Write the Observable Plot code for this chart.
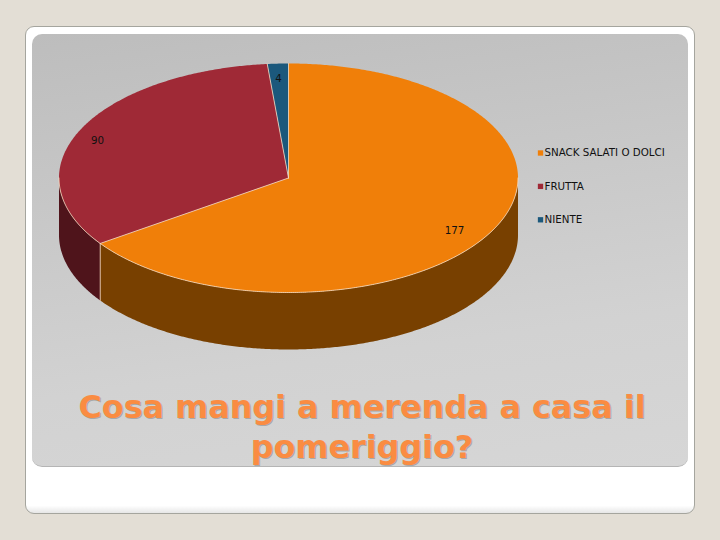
<!DOCTYPE html>
<html>
<head>
<meta charset="utf-8">
<script src="https://cdn.jsdelivr.net/npm/d3@7"></script>
<script src="https://cdn.jsdelivr.net/npm/@observablehq/plot@0.6"></script>
<style>
html,body{margin:0;padding:0;background:#e3ded5;width:720px;height:540px;overflow:hidden}
#card{position:absolute;left:24.5px;top:25.5px;width:670.5px;height:488.5px;box-sizing:border-box;background:linear-gradient(#fff 0,#fff 98.5%,#e6e6e6 100%);border:1px solid #a5a59e;border-radius:9px}
#panel{position:absolute;left:32px;top:34px;width:656px;height:433px;border-radius:10px;background:linear-gradient(172deg,#bdbdbd 0%,#c6c6c6 30%,#d2d2d2 70%,#d6d6d6 100%);border-bottom:1px solid #b5b5b5;box-sizing:border-box}
#chart{position:absolute;left:0;top:0}
#chart svg{background:transparent!important}
</style>
</head>
<body>
<div id="card"></div>
<div id="panel"></div>
<div id="chart"></div>
<script>
const categories = ["SNACK SALATI O DOLCI", "FRUTTA", "NIENTE"];
const values = [177, 90, 4];
const topColors = ["#F07F09", "#9F2936", "#1B587C"];
const wallColors = ["#784000", "#4F141B", "#0D2C3E"];
const titleLines = ["Cosa mangi a merenda a casa il", "pomeriggio?"];

// layout of the tilted pie
const cx = 288, cy = 177.5, rx = 229.5, ry = 114.5, depth = 57;
const total = d3.sum(values);
const rim = (deg, drop = 0) => {
  const t = deg * Math.PI / 180;
  return {x: cx + rx * Math.sin(t), y: cy - ry * Math.cos(t) + drop};
};
const arc = (a, b, drop = 0) => {
  const n = Math.max(2, Math.ceil(Math.abs(b - a) * 2));
  return d3.range(n + 1).map(i => rim(a + (b - a) * i / n, drop));
};

let acc = 0;
const slices = categories.map((name, i) => {
  const start = acc / total * 360;
  acc += values[i];
  return {name, value: values[i], start, end: acc / total * 360, wall: wallColors[i]};
});

const topPts = slices.flatMap(s =>
  [{x: cx, y: cy}, ...arc(s.start, s.end), {x: cx, y: cy}].map(p => ({...p, name: s.name})));

const wallPts = slices.flatMap(s => {
  const a = Math.max(s.start, 90), b = Math.min(s.end, 270);
  if (b <= a) return [];
  return [...arc(a, b), ...arc(b, a, depth)].map(p => ({...p, wall: s.wall, name: s.name}));
});

const edgePts = [
  ...slices.flatMap(s => [{x: cx, y: cy}, rim(s.start)].map(p => ({...p, k: "r" + s.name}))),
  ...arc(90, 270).map(p => ({...p, k: "front"})),
  ...[rim(slices[0].end), rim(slices[0].end, depth)].map(p => ({...p, k: "wall"}))
];

const labelPos = [{x: 454, y: 230}, {x: 97, y: 140}, {x: 278, y: 78}];
const pieLabels = slices.map((s, i) => ({text: String(s.value), ...labelPos[i]}));
const legend = categories.map((name, i) => ({name, x: 540, tx: 544, y: 152.5 + i * 33.4}));
const title = titleLines.map((t, i) => ({t, x: 361.5, y: 407 + i * 40}));
const font = "'DejaVu Sans', Verdana, sans-serif";

const chart = Plot.plot({
  width: 720, height: 540, margin: 0,
  style: {background: "transparent"},
  x: {domain: [0, 720], range: [0, 720], axis: null},
  y: {domain: [0, 540], range: [0, 540], axis: null},
  color: {domain: categories, range: topColors},
  marks: [
    Plot.line(wallPts, {x: "x", y: "y", z: "name", fill: d => d.wall, stroke: "none"}),
    Plot.line(topPts, {x: "x", y: "y", z: "name", fill: "name", stroke: "none"}),
    Plot.line(edgePts, {x: "x", y: "y", z: "k", stroke: "#f7dcc0", strokeWidth: 0.8}),
    Plot.text(pieLabels, {x: "x", y: "y", text: "text", fill: "#111", fontSize: 10.3, fontFamily: font}),
    Plot.dot(legend, {x: "x", y: "y", fill: "name", symbol: "square", r: 3}),
    Plot.text(legend, {x: "tx", y: "y", text: "name", textAnchor: "start", fill: "#111", fontSize: 10.3, fontFamily: font}),
    Plot.text(title, {x: "x", y: "y", text: "t", dx: 1, dy: 1, fill: "#a8a8a8", fontSize: 31.8, fontWeight: "bold", fontFamily: font}),
    Plot.text(title, {x: "x", y: "y", text: "t", fill: "#FA8C42", fontSize: 31.8, fontWeight: "bold", fontFamily: font})
  ]
});
document.getElementById("chart").appendChild(chart);
</script>
</body>
</html>
